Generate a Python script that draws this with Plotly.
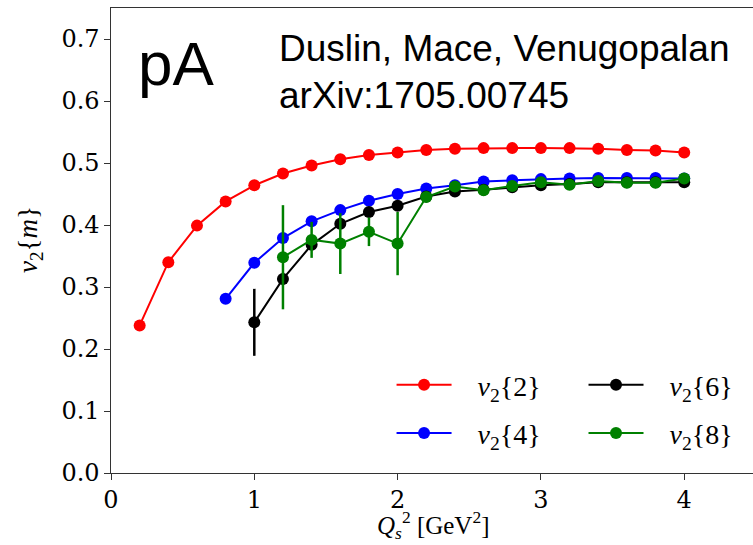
import plotly.graph_objects as go

# ---- data ----
x_v22 = [0.2, 0.4, 0.6, 0.8, 1.0, 1.2, 1.4, 1.6, 1.8, 2.0, 2.2, 2.4, 2.6, 2.8, 3.0, 3.2, 3.4, 3.6, 3.8, 4.0]
v22 = [0.238, 0.340, 0.399, 0.438, 0.464, 0.483, 0.496, 0.506, 0.513, 0.517,
       0.521, 0.523, 0.524, 0.524, 0.524, 0.524, 0.523, 0.521, 0.520, 0.517]
e22 = [0.002] * 20

x_v24 = [0.8, 1.0, 1.2, 1.4, 1.6, 1.8, 2.0, 2.2, 2.4, 2.6, 2.8, 3.0, 3.2, 3.4, 3.6, 3.8, 4.0]
v24 = [0.281, 0.339, 0.379, 0.406, 0.424, 0.439, 0.450, 0.459, 0.464, 0.470,
       0.472, 0.474, 0.475, 0.476, 0.476, 0.476, 0.475]
e24 = [0.003] * 17

x_v26 = [1.0, 1.2, 1.4, 1.6, 1.8, 2.0, 2.2, 2.4, 2.6, 2.8, 3.0, 3.2, 3.4, 3.6, 3.8, 4.0]
v26 = [0.243, 0.313, 0.368, 0.402, 0.421, 0.431, 0.446, 0.454, 0.457, 0.461,
       0.464, 0.466, 0.469, 0.469, 0.469, 0.469]
e26 = [0.054, 0.010, 0.008, 0.006, 0.006, 0.006, 0.005, 0.005, 0.005, 0.005,
       0.005, 0.005, 0.005, 0.005, 0.005, 0.005]

x_v28 = [1.2, 1.4, 1.6, 1.8, 2.0, 2.2, 2.4, 2.6, 2.8, 3.0, 3.2, 3.4, 3.6, 3.8, 4.0]
v28 = [0.348, 0.376, 0.370, 0.389, 0.370, 0.445, 0.462, 0.456, 0.463, 0.469,
       0.465, 0.471, 0.468, 0.468, 0.475]
e28 = [0.084, 0.029, 0.049, 0.023, 0.051, 0.006, 0.006, 0.006, 0.006, 0.006,
       0.006, 0.006, 0.006, 0.006, 0.006]

x_ticks = [0, 1, 2, 3, 4]
y_ticks = [0.0, 0.1, 0.2, 0.3, 0.4, 0.5, 0.6, 0.7]

GAP = "&nbsp;&nbsp;&nbsp;"
series = [
    (GAP + "<i>v</i><sub>2</sub>{2}", x_v22, v22, e22, "#ff0000", "legend", 1),
    (GAP + "<i>v</i><sub>2</sub>{4}", x_v24, v24, e24, "#0000ff", "legend", 2),
    (GAP + "<i>v</i><sub>2</sub>{6}", x_v26, v26, e26, "#000000", "legend2", 1),
    (GAP + "<i>v</i><sub>2</sub>{8}", x_v28, v28, e28, "#008000", "legend2", 2),
]

W, H = 753, 545
L, R, T, B = 111, 0, 8, 72

fig = go.Figure()
for name, xs, ys, es, col, lg, rank in series:
    fig.add_trace(go.Scatter(
        x=xs, y=ys, name=name, mode="lines+markers",
        line=dict(color=col, width=2),
        marker=dict(color=col, size=12),
        error_y=dict(type="data", array=es, visible=True, color=col,
                     thickness=2.5, width=0),
        legend=lg, legendrank=rank, legendgroup=name,
    ))

axis_common = dict(
    showgrid=False, zeroline=False, showline=True, linecolor="#333333",
    linewidth=1.3, ticks="outside", ticklen=5.5, tickwidth=1.3,
    tickcolor="#333333",
    tickfont=dict(family="DejaVu Serif", size=24, color="#000000"),
)

legend_font = dict(family="Liberation Serif", size=28, color="#000000")
fig.update_layout(
    width=W, height=H,
    margin=dict(l=L, r=R, t=T, b=B, pad=0),
    paper_bgcolor="white", plot_bgcolor="white",
    xaxis=dict(range=[0, 4.48], tickvals=x_ticks, mirror=True, **axis_common),
    yaxis=dict(range=[0, 0.75], tickvals=y_ticks, tickformat=".1f", mirror=False, **axis_common),
    legend=dict(x=0.437, y=0.243, xanchor="left", yanchor="top",
                bgcolor="rgba(0,0,0,0)", itemwidth=55, tracegroupgap=9,
                font=legend_font),
    legend2=dict(x=0.736, y=0.243, xanchor="left", yanchor="top",
                 bgcolor="rgba(0,0,0,0)", itemwidth=55, tracegroupgap=9,
                 font=legend_font),
)

pw = W - L - R
ph = H - T - B


def px_x(p):
    return (p - L) / pw


def px_y(p):
    return (H - B - p) / ph


fig.add_annotation(text="pA", xref="paper", yref="paper",
                   x=px_x(136), y=px_y(63), xanchor="left", yanchor="middle",
                   showarrow=False,
                   font=dict(family="Liberation Sans", size=62, color="#000000"))
fig.add_annotation(text="Duslin, Mace, Venugopalan", xref="paper", yref="paper",
                   x=px_x(277), y=px_y(49), xanchor="left", yanchor="middle",
                   showarrow=False,
                   font=dict(family="Liberation Sans", size=37, color="#000000"))
fig.add_annotation(text="arXiv:1705.00745", xref="paper", yref="paper",
                   x=px_x(277), y=px_y(95), xanchor="left", yanchor="middle",
                   showarrow=False,
                   font=dict(family="Liberation Sans", size=37, color="#000000"))
fig.add_annotation(text="<i>Q</i><sub><i>s</i></sub><sup>2</sup> [GeV<sup>2</sup>]",
                   xref="paper", yref="paper",
                   x=px_x(433), y=px_y(544), xanchor="center", yanchor="bottom",
                   showarrow=False, borderpad=0,
                   font=dict(family="Liberation Serif", size=25, color="#000000"))
fig.add_annotation(text="<i>v</i><sub>2</sub>{<i>m</i>}",
                   xref="paper", yref="paper", textangle=-90,
                   x=px_x(30), y=px_y(240), xanchor="center", yanchor="middle",
                   showarrow=False,
                   font=dict(family="Liberation Serif", size=27, color="#000000"))

fig.write_html("out.html")
